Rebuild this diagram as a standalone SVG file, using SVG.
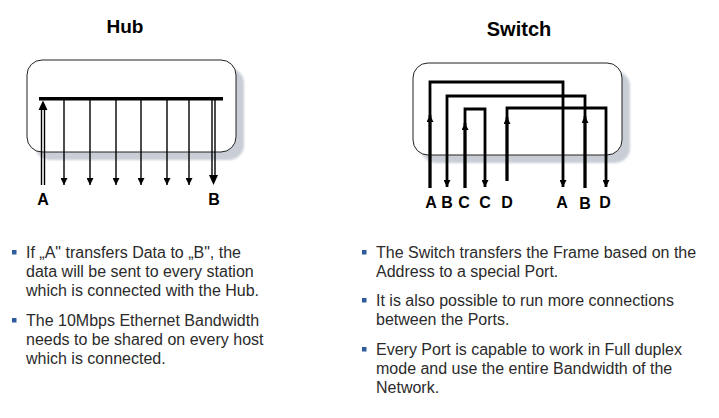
<svg xmlns="http://www.w3.org/2000/svg" width="719" height="418" viewBox="0 0 719 418">
<style>
.title{font-family:"Liberation Sans",Arial,sans-serif;font-weight:bold;fill:#000;text-anchor:middle}
.lbl{font-family:"Liberation Sans",Arial,sans-serif;font-weight:bold;font-size:16px;fill:#000;text-anchor:middle}
.body{font-family:"Liberation Sans",Arial,sans-serif;font-size:16px;fill:#2b2b2b}
.box{fill:#fff;stroke:#222;stroke-width:1}
.shadow{fill:#c9cdd5}
.bul{fill:#2e5c9e}
.thin{stroke:#000;stroke-width:1.4;fill:none}
.wire{stroke:#000;stroke-width:2.8;fill:none}
</style>
<defs>
<marker id="ah" viewBox="0 0 8 8" refX="8" refY="4" markerWidth="7" markerHeight="7" markerUnits="userSpaceOnUse" orient="auto"><path d="M0,0 L8,4 L0,8 Z" fill="#000"/></marker>
<marker id="ahs" viewBox="0 0 8 8" refX="8" refY="4" markerWidth="9" markerHeight="7" markerUnits="userSpaceOnUse" orient="auto"><path d="M0,0 L8,4 L0,8 Z" fill="#000"/></marker>
<filter id="blur" x="-10%" y="-10%" width="120%" height="120%"><feGaussianBlur stdDeviation="1"/></filter>
</defs>
<rect width="719" height="418" fill="#fff"/>

<g id="hub">
<text class="title" x="125" y="33" font-size="19">Hub</text>
<rect class="shadow" x="35" y="68" width="209" height="92" rx="15" filter="url(#blur)"/>
<rect class="box" x="27" y="60" width="209" height="92" rx="15"/>
<rect x="39" y="97" width="184" height="3.5" fill="#000"/>
</g>

<g id="switch">
<text class="title" x="519" y="36" font-size="20">Switch</text>
<rect class="shadow" x="421" y="71" width="209" height="92" rx="15" filter="url(#blur)"/>
<rect class="box" x="413" y="63" width="209" height="92" rx="15"/>
</g>

<g id="connectors">
<!-- hub A double up arrow -->
<line class="thin" x1="41.5" y1="185" x2="41.5" y2="108"/>
<line class="thin" x1="44.5" y1="185" x2="44.5" y2="108"/>
<path d="M38.5,110 L43,100.5 L47.5,110 Z" fill="#000"/>
<!-- hub small down arrows -->
<line class="thin" x1="64" y1="100" x2="64" y2="185" marker-end="url(#ah)"/>
<line class="thin" x1="90" y1="100" x2="90" y2="185" marker-end="url(#ah)"/>
<line class="thin" x1="116" y1="100" x2="116" y2="185" marker-end="url(#ah)"/>
<line class="thin" x1="141" y1="100" x2="141" y2="185" marker-end="url(#ah)"/>
<line class="thin" x1="167" y1="100" x2="167" y2="185" marker-end="url(#ah)"/>
<line class="thin" x1="189" y1="100" x2="189" y2="185" marker-end="url(#ah)"/>
<!-- hub B double down arrow -->
<line class="thin" x1="212" y1="100" x2="212" y2="177"/>
<line class="thin" x1="215" y1="100" x2="215" y2="177"/>
<path d="M209,175 L213.5,185 L218,175 Z" fill="#000"/>

<!-- switch A -->
<path class="wire" d="M430,188 L430,82 L563,82 L563,187" marker-end="url(#ahs)"/>
<line class="wire" x1="430" y1="188" x2="430" y2="115" marker-end="url(#ahs)"/>
<!-- switch B -->
<path class="wire" d="M585,188 L585,96 L447,96 L447,187" marker-end="url(#ahs)"/>
<line class="wire" x1="585" y1="188" x2="585" y2="116" marker-end="url(#ahs)"/>
<!-- switch C -->
<path class="wire" d="M465,188 L465,109 L485,109 L485,187" marker-end="url(#ahs)"/>
<line class="wire" x1="465" y1="188" x2="465" y2="123" marker-end="url(#ahs)"/>
<!-- switch D -->
<path class="wire" d="M507,181 L507,108 L606,108 L606,187" marker-end="url(#ahs)"/>
<line class="wire" x1="507" y1="181" x2="507" y2="117" marker-end="url(#ahs)"/>
</g>

<g id="labels">
<text class="lbl" x="43" y="205">A</text>
<text class="lbl" x="214" y="205">B</text>
<text class="lbl" x="431" y="208">A</text>
<text class="lbl" x="447" y="208">B</text>
<text class="lbl" x="464" y="208">C</text>
<text class="lbl" x="485" y="208">C</text>
<text class="lbl" x="507" y="208">D</text>
<text class="lbl" x="562" y="208">A</text>
<text class="lbl" x="585" y="209">B</text>
<text class="lbl" x="605" y="208">D</text>
</g>

<g id="hub-text">
<rect class="bul" x="12" y="250" width="4.5" height="4.5"/>
<text class="body" x="26" y="258">If „A" transfers Data to „B", the</text>
<text class="body" x="26" y="277">data will be sent to every station</text>
<text class="body" x="26" y="296">which is connected with the Hub.</text>
<rect class="bul" x="12" y="318" width="4.5" height="4.5"/>
<text class="body" x="26" y="326">The 10Mbps Ethernet Bandwidth</text>
<text class="body" x="26" y="345">needs to be shared on every host</text>
<text class="body" x="26" y="364">which is connected.</text>
</g>

<g id="switch-text">
<rect class="bul" x="362" y="250" width="4.5" height="4.5"/>
<text class="body" x="376" y="258">The Switch transfers the Frame based on the</text>
<text class="body" x="376" y="277">Address to a special Port.</text>
<rect class="bul" x="362" y="298" width="4.5" height="4.5"/>
<text class="body" x="376" y="306">It is also possible to run more connections</text>
<text class="body" x="376" y="325">between the Ports.</text>
<rect class="bul" x="362" y="347" width="4.5" height="4.5"/>
<text class="body" x="376" y="355">Every Port is capable to work in Full duplex</text>
<text class="body" x="376" y="374">mode and use the entire Bandwidth of the</text>
<text class="body" x="376" y="393">Network.</text>
</g>
</svg>
